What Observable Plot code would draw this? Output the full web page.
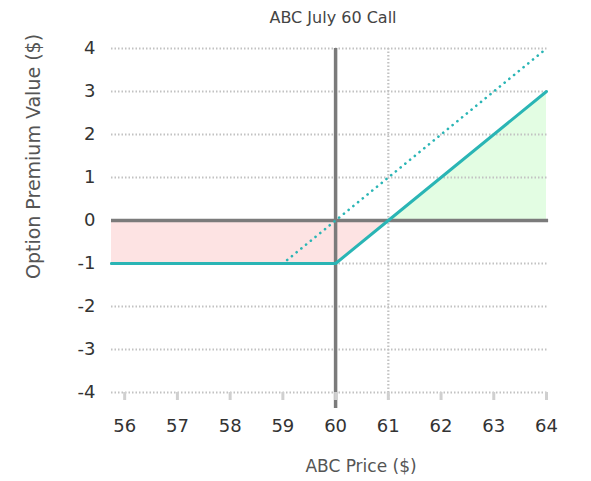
<!DOCTYPE html>
<html>
<head>
<meta charset="utf-8">
<script src="https://cdn.jsdelivr.net/npm/d3@7"></script>
<script src="https://cdn.jsdelivr.net/npm/@observablehq/plot@0.6"></script>
<style>
  html, body { margin: 0; padding: 0; background: #fff; }
</style>
</head>
<body>
<div id="chart"></div>
<script>
const title = "ABC July 60 Call";
const xLabel = "ABC Price ($)";
const yLabel = "Option Premium Value ($)";
const xTicks = [56, 57, 58, 59, 60, 61, 62, 63, 64];
const yTicks = [-4, -3, -2, -1, 0, 1, 2, 3, 4];
const gridY = [-4, -3, -2, -1, 1, 2, 3, 4];
const strike = 60;
const breakeven = 61;
const xDomain = [55.75, 64];

// profit/loss at expiration (solid)
const payoffX = [55.75, 60, 61, 64];
const payoffY = [-1, -1, 0, 3];
// intrinsic-value style dotted line
const dottedX = [55.75, 59, 64];
const dottedY = [-1, -1, 4];
// shaded regions
const lossX = [55.75, 60, 61];
const lossY = [-1, -1, 0];
const gainX = [61, 64];
const gainY = [0, 3];

const zip = (xs, ys) => xs.map((x, i) => ({x, y: ys[i]}));
const payoff = zip(payoffX, payoffY);
const dotted = zip(dottedX, dottedY);
const loss = zip(lossX, lossY);
const gain = zip(gainX, gainY);

const teal = "#2ab5b5";
const axisGray = "#7b7b7b";
const gridGray = "#c2c2c2";

const chart = Plot.plot({
  width: 591,
  height: 481,
  marginLeft: 111,
  marginRight: 45,
  marginTop: 48,
  marginBottom: 89,
  x: {domain: xDomain},
  y: {domain: [-4, 4]},
  style: {fontFamily: "'DejaVu Sans', sans-serif", background: "#fff", overflow: "visible"},
  marks: [
    Plot.areaY(loss, {x: "x", y1: 0, y2: "y", fill: "#fde3e3"}),
    Plot.areaY(gain, {x: "x", y1: 0, y2: "y", fill: "#e3fde3"}),
    Plot.ruleY(gridY, {x1: xDomain[0], x2: 64.04, stroke: gridGray, strokeWidth: 2.2, strokeDasharray: "1.5,2"}),
    Plot.ruleX([breakeven], {y1: 4, y2: -4.2, stroke: gridGray, strokeWidth: 2.2, strokeDasharray: "1.5,2"}),
    Plot.ruleY([0], {x1: xDomain[0], x2: 64.04, stroke: axisGray, strokeWidth: 3.5}),
    Plot.ruleX([strike], {y1: 4, y2: -4.37, stroke: axisGray, strokeWidth: 3.5}),
    Plot.line(dotted, {x: "x", y: "y", stroke: teal, strokeWidth: 2.6, strokeDasharray: "0.1,6", strokeLinecap: "round"}),
    Plot.line(payoff, {x: "x", y: "y", stroke: teal, strokeWidth: 3}),
    Plot.axisY({ticks: yTicks, tickSize: 0, tickPadding: 16, fontSize: 18, fill: "#333", tickFormat: d => String(d), label: null}),
    Plot.axisX({ticks: xTicks, tickSize: 8, tickPadding: 19, stroke: "#d0d0d0", strokeWidth: 3, fontSize: 18, fill: "#333", tickFormat: d => String(d), label: null}),
    Plot.text([title], {frameAnchor: "top", textAnchor: "middle", lineAnchor: "middle", dx: 4, dy: -31, fontSize: 16, fill: "#444"}),
    Plot.text([xLabel], {frameAnchor: "bottom", textAnchor: "middle", lineAnchor: "middle", dx: 32, dy: 74, fontSize: 17, fill: "#555"}),
    Plot.text([yLabel], {frameAnchor: "left", textAnchor: "middle", lineAnchor: "middle", rotate: -90, dx: -78, dy: -64, fontSize: 19, fill: "#555"})
  ]
});
document.getElementById("chart").appendChild(chart);
</script>
</body>
</html>
